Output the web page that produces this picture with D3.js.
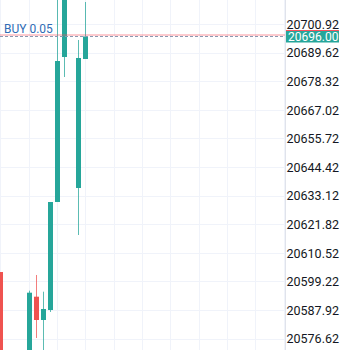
<!DOCTYPE html>
<html><head><meta charset="utf-8">
<script src="https://cdn.jsdelivr.net/npm/d3@7"></script>
<style>html,body{margin:0;padding:0;background:#fff;overflow:hidden}svg{display:block}</style>
</head><body>
<svg id="c" width="350" height="350"></svg>
<script>
// Candle data (index, open, high, low, close)
const idx   = [0,1,2,3,4,5,6,7,8,9,10,11,12];
const opens = [20602.93,20560.00,20548.00,20556.00,20568.17,20593.18,20583.97,20587.92,20630.59,20687.88,20740.00,20636.12,20687.09];
const highs = [20602.93,20562.00,20559.00,20567.00,20595.55,20601.75,20595.15,20630.59,20718.30,20742.00,20752.00,20694.60,20709.61];
const lows  = [20560.00,20545.00,20544.00,20552.00,20566.19,20576.86,20571.33,20587.13,20630.59,20679.98,20712.00,20617.55,20687.09];
const closes= [20560.00,20548.00,20556.00,20566.00,20594.76,20583.97,20588.32,20630.59,20686.30,20734.11,20715.00,20687.49,20696.00];
const tickValues = [20700.92,20689.62,20678.32,20667.02,20655.72,20644.42,20633.12,20621.82,20610.52,20599.22,20587.92,20576.62];
const tickLabels = ["20700.92","20689.62","20678.32","20667.02","20655.72","20644.42","20633.12","20621.82","20610.52","20599.22","20587.92","20576.62"];
const lastPrice = 20696.00;
const lastLabel = "20696.00";
const positionPrice = 20696.0;
const positionLabel = "BUY 0.05";

const W=350,H=350, plotR=285;
const svg=d3.select("#c");
const x=d3.scaleLinear().domain([0,40]).range([0.3,283.5]);
const y=d3.scaleLinear().domain([20700.92,20576.62]).range([24,338.6]);
const up="#26a69a", down="#ef5350";

const plot=svg.append("g");
svg.append("defs").append("clipPath").attr("id","pc").append("rect").attr("x",0).attr("y",0).attr("width",plotR).attr("height",H);
plot.attr("clip-path","url(#pc)");

// grid
plot.selectAll(".hg").data(tickValues).enter().append("line")
  .attr("x1",0).attr("x2",plotR).attr("y1",d=>Math.round(y(d))+0.5).attr("y2",d=>Math.round(y(d))+0.5)
  .attr("stroke","#f0f3fa").attr("stroke-width",1);
plot.selectAll(".vg").data(d3.range(0,41,4)).enter().append("line")
  .attr("y1",0).attr("y2",H).attr("x1",d=>Math.round(x(d))+0.5).attr("x2",d=>Math.round(x(d))+0.5)
  .attr("stroke","#f0f3fa").attr("stroke-width",1);

// candles
const data=idx.map((i,k)=>({i,o:opens[k],h:highs[k],l:lows[k],c:closes[k]}));
const g=plot.selectAll(".cd").data(data).enter().append("g");
g.append("line")
  .attr("x1",d=>Math.round(x(d.i))+0.5).attr("x2",d=>Math.round(x(d.i))+0.5)
  .attr("y1",d=>y(d.h)).attr("y2",d=>y(d.l))
  .attr("stroke",d=>d.c>=d.o?up:down).attr("stroke-opacity",0.75).attr("stroke-width",1);
g.append("rect")
  .attr("x",d=>Math.round(x(d.i))-2).attr("width",5)
  .attr("y",d=>y(Math.max(d.o,d.c))).attr("height",d=>Math.max(1,Math.abs(y(d.o)-y(d.c))))
  .attr("fill",d=>d.c>=d.o?up:down);

// price lines
plot.append("line").attr("x1",0).attr("x2",plotR).attr("y1",35).attr("y2",35)
  .attr("stroke","#f7525f").attr("stroke-opacity",0.6).attr("stroke-width",1);
plot.append("line").attr("x1",0).attr("x2",plotR).attr("y1",Math.round(y(positionPrice))+0.5).attr("y2",Math.round(y(positionPrice))+0.5)
  .attr("stroke","#8a98b0").attr("stroke-width",1).attr("stroke-dasharray","3,2");
plot.append("text").attr("x",4).attr("y",33).text(positionLabel)
  .attr("font-family","Roboto").attr("font-size","12px").attr("fill","#2f6cb5");

// axis separator
svg.append("line").attr("x1",plotR+0.5).attr("x2",plotR+0.5).attr("y1",0).attr("y2",H).attr("stroke","#e0e3eb");

// axis labels
const yAxis=d3.axisRight(y).tickValues(tickValues).tickFormat((d,k)=>tickLabels[k]).tickSize(0).tickPadding(0);
const ax=svg.append("g").attr("transform",`translate(286.5,0)`).call(yAxis);
ax.select(".domain").remove();
ax.selectAll("text").attr("font-family","Roboto").attr("font-size","12.5px").attr("fill","#131722").attr("dy","0.35em");

// last price label
const ly=37;
svg.append("rect").attr("x",286).attr("y",31).attr("width",53).attr("height",11.5).attr("fill",up);
svg.append("line").attr("x1",286).attr("x2",339).attr("y1",30.5).attr("y2",30.5).attr("stroke","#f7525f").attr("stroke-width",1);
svg.append("text").attr("x",288).attr("y",ly).attr("dy","0.35em").text(lastLabel)
  .attr("font-family","Roboto").attr("font-size","12px").attr("fill","#ffffff");
</script>
</body></html>
